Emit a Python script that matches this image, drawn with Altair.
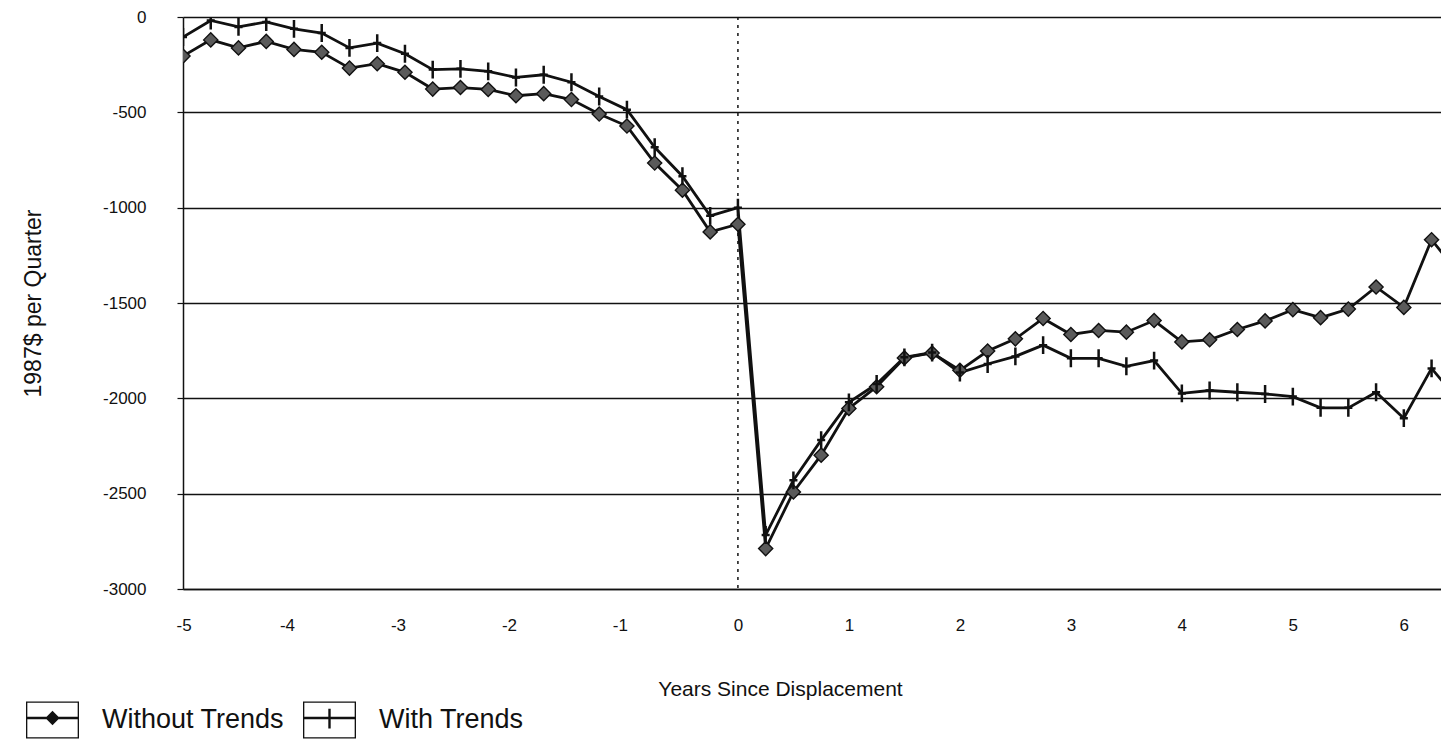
import altair as alt
import pandas as pd

# Years since displacement (quarterly)
years = [-5.0, -4.75, -4.5, -4.25, -4.0, -3.75, -3.5, -3.25, -3.0, -2.75, -2.5, -2.25,
         -2.0, -1.75, -1.5, -1.25, -1.0, -0.75, -0.5, -0.25, 0.0, 0.25, 0.5, 0.75,
         1.0, 1.25, 1.5, 1.75, 2.0, 2.25, 2.5, 2.75, 3.0, 3.25, 3.5, 3.75,
         4.0, 4.25, 4.5, 4.75, 5.0, 5.25, 5.5, 5.75, 6.0, 6.25, 6.5]

without_trends = [-205, -120, -162, -128, -170, -185, -268, -245, -290, -378, -370, -380,
                  -413, -402, -433, -509, -572, -766, -908, -1127, -1087, -2788, -2491, -2298,
                  -2053, -1939, -1788, -1762, -1853, -1752, -1688, -1581, -1665, -1644, -1653, -1592,
                  -1704, -1693, -1639, -1594, -1535, -1577, -1532, -1416, -1523, -1168, -1350]

with_trends = [-105, -18, -52, -26, -62, -84, -162, -137, -193, -276, -272, -285,
               -317, -303, -342, -417, -486, -683, -835, -1043, -1000, -2717, -2430, -2219,
               -2021, -1925, -1785, -1760, -1865, -1820, -1780, -1721, -1790, -1790, -1832, -1802,
               -1974, -1959, -1968, -1977, -1991, -2050, -2050, -1968, -2104, -1843, -2015]

series_names = ["Without Trends", "With Trends"]
y_ticks = [0, -500, -1000, -1500, -2000, -2500, -3000]
x_ticks = [-5, -4, -3, -2, -1, 0, 1, 2, 3, 4, 5, 6]
event_year = [0]

x_domain = [-5, 6.335]
y_domain = [-3000, 0]

df_wo = pd.DataFrame({"year": years, "value": without_trends, "series": series_names[0]})
df_w = pd.DataFrame({"year": years, "value": with_trends, "series": series_names[1]})
df = pd.concat([df_wo, df_w], ignore_index=True)
df_event = pd.DataFrame({"year": event_year})

FONT = "Liberation Sans"
INK = "#111111"

x_enc = alt.X("year:Q", scale=alt.Scale(domain=x_domain, nice=False, zero=False),
              axis=alt.Axis(values=x_ticks, title="Years Since Displacement",
                            labelExpr="datum.value < 0 ? '-' + (-datum.value) : '' + datum.value",
                            labelFontSize=17, labelPadding=28, ticks=False,
                            labelOffset={"condition": {"test": "datum.value < 0", "value": -7}, "value": 0},
                            titleFontSize=21, titleFontWeight="normal", titlePadding=45,
                            titleX=597, titleAlign="center",
                            domainColor=INK, domainWidth=1.5, grid=False))
y_enc = alt.Y("value:Q", scale=alt.Scale(domain=y_domain, nice=False, zero=False),
              axis=alt.Axis(values=y_ticks, title="1987$ per Quarter",
                            labelExpr="datum.value < 0 ? '-' + (-datum.value) : '' + datum.value",
                            labelFontSize=17, labelPadding=31, tickSize=6, tickColor=INK,
                            tickWidth=1.2,
                            titleFontSize=23, titleFontWeight="normal", titlePadding=57,
                            domainColor=INK, domainWidth=1.5,
                            grid=True, gridColor=INK, gridWidth=1.5))

lines = alt.Chart(df).mark_line(color=INK, strokeWidth=2.8, clip=True).encode(
    x=x_enc, y=y_enc, detail="series:N")

event_rule = alt.Chart(df_event).mark_rule(color=INK, strokeWidth=1.5, strokeDash=[3, 5]).encode(
    x="year:Q")

diamonds = alt.Chart(df_wo).mark_point(shape="diamond", filled=True, fill="#5a5a5a", stroke=INK,
                                       strokeWidth=1.4, size=200, opacity=1, clip=True).encode(
    x="year:Q", y="value:Q")

plus_path = "M0,-1L0,1M-0.45,0L0.45,0"
pluses = alt.Chart(df_w).mark_point(shape=plus_path, filled=False, stroke=INK, strokeWidth=2.5,
                                    size=320, opacity=1, clip=True).encode(
    x="year:Q", y="value:Q")

box = "M-1,-0.7H1V0.7H-1Z M-0.95,-0.65V0.65H0.95V-0.65Z M-0.95,-0.12H0.95V-0.03H-0.95Z"
legend_without = box + " M-0.27,-0.075L0,-0.345L0.27,-0.075L0,0.195Z"
legend_with = box + " M-0.045,-0.42H0.045V0.32H-0.045Z"

legend_layer = alt.Chart(df).transform_filter(
    alt.datum.year > x_domain[1]
).mark_point(filled=True, color=INK, opacity=1, clip=True).encode(
    x="year:Q", y="value:Q",
    shape=alt.Shape("series:N",
                    scale=alt.Scale(domain=series_names, range=[legend_without, legend_with]),
                    legend=alt.Legend(title=None, orient="none", legendX=-157, legendY=676,
                                      direction="horizontal", symbolSize=2809,
                                      symbolStrokeWidth=0, symbolFillColor=INK,
                                      labelFontSize=27, labelFont=FONT, labelColor=INK,
                                      labelOffset=23, columnPadding=18, padding=0,
                                      labelLimit=400)))

chart = alt.layer(lines, event_rule, diamonds, pluses, legend_layer).properties(
    width=1258, height=572,
    autosize=alt.AutoSizeParams(type="none"),
    padding={"left": 175, "top": 9, "right": 0, "bottom": 150},
).configure(font=FONT).configure_view(stroke=None).configure_axis(
    labelColor=INK, titleColor=INK, labelFont=FONT, titleFont=FONT
)

chart.save("out.html", embed_options={"renderer": "svg", "actions": False})
